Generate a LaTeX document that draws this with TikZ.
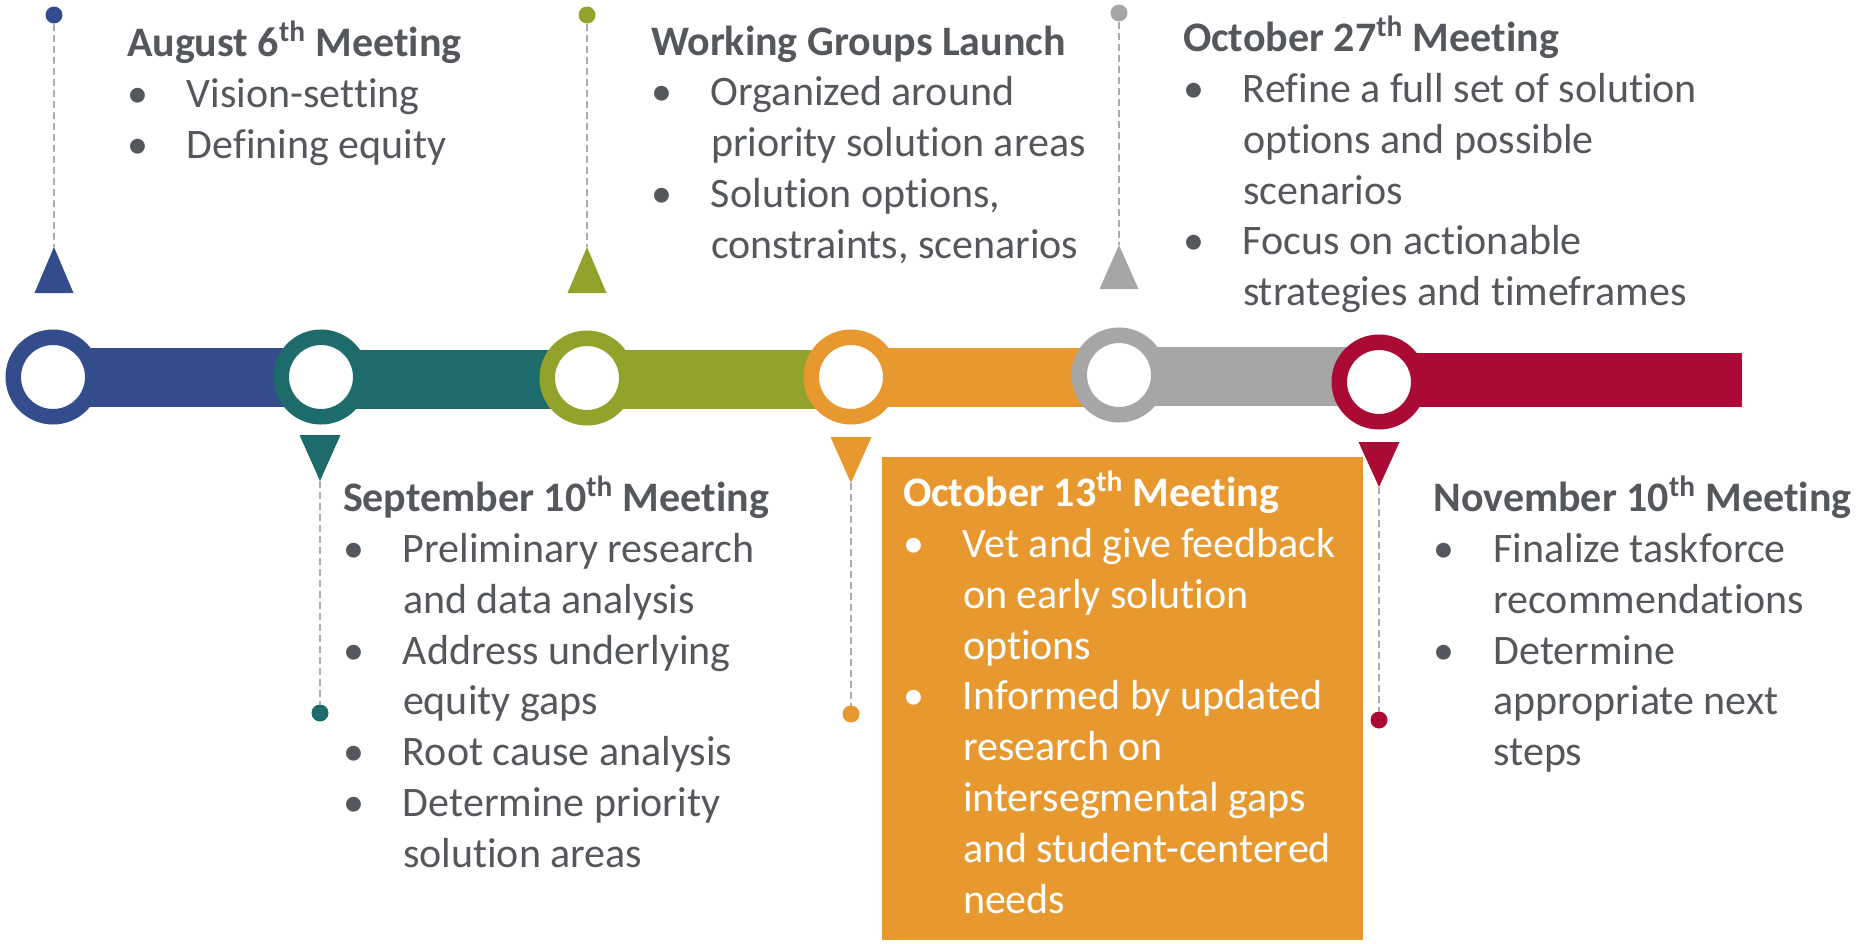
\documentclass[tikz,border=0pt]{standalone}
\usepackage{fontspec}
\setmainfont{Carlito}[RawFeature={-liga;-clig;-calt;-dlig}]
\definecolor{tlblue}{RGB}{51,76,140}
\definecolor{tlteal}{RGB}{29,107,107}
\definecolor{tlgreen}{RGB}{147,162,42}
\definecolor{tlorange}{RGB}{231,153,48}
\definecolor{tlgray}{RGB}{166,166,166}
\definecolor{tlred}{RGB}{170,10,52}
\definecolor{textgray}{RGB}{84,87,91}
\definecolor{guidegray}{RGB}{172,172,172}
% text lines of a milestone block
\newcommand\tlhead[1]{\hbox{\bfseries #1}}
\newcommand\tlitem[1]{\hbox{\makebox[30pt][l]{\textbullet}#1}}
\newcommand\tlcont[1]{\hbox{\hspace*{30pt}#1}}
\newcommand\tlth{\textsuperscript{th}}
\begin{document}
\begin{tikzpicture}[x=0.5pt,y=-0.5pt,
  ring/.style={circle,draw=#1,line width=7.75pt,fill=white,minimum size=39.75pt,inner sep=0pt,outer sep=0pt},
  pin/.style={circle,fill=#1,minimum size=8.5pt,inner sep=0pt,outer sep=0pt},
  guide/.style={draw=guidegray,line width=0.9pt,dash pattern=on 3.5pt off 2pt},
  block/.style={anchor=base west,inner sep=0pt,outer sep=0pt,text=textgray,
    font=\fontsize{21}{25.4}\selectfont},
  whiteblock/.style={block,text=white}]
\useasboundingbox (0,0) rectangle (1859,943);

% bar segments between milestones
\fill[tlblue]   (53,348)   rectangle (321,407);
\fill[tlteal]   (321,350)  rectangle (587,409);
\fill[tlgreen]  (587,350)  rectangle (851,409);
\fill[tlorange] (851,348)  rectangle (1119,407);
\fill[tlgray]   (1119,347) rectangle (1379,406);
\fill[tlred]    (1379,353) rectangle (1742,407);

% milestone rings
\node[ring=tlblue]   (r1) at (53,377) {};
\node[ring=tlteal]   (r2) at (321,377) {};
\node[ring=tlgreen]  (r3) at (587,378) {};
\node[ring=tlorange] (r4) at (851,377) {};
\node[ring=tlgray]   (r5) at (1119,375) {};
\node[ring=tlred]    (r6) at (1379,382) {};

% pointer triangles
\fill[tlblue]   (54,247) -- (34.5,293) -- (73.5,293) -- cycle;
\fill[tlgreen]  (587,247) -- (567.5,293) -- (606.5,293) -- cycle;
\fill[tlgray]   (1119,245) -- (1099.5,289) -- (1138.5,289) -- cycle;
\fill[tlteal]   (320,481) -- (299.5,435) -- (340.5,435) -- cycle;
\fill[tlorange] (851,483) -- (830.5,437) -- (871.5,437) -- cycle;
\fill[tlred]    (1379,487) -- (1358.5,442) -- (1399.5,442) -- cycle;
\coordinate (a1) at (54,247);
\coordinate (a3) at (587,247);
\coordinate (a5) at (1119,245);
\coordinate (a2) at (320,481);
\coordinate (a4) at (851,483);
\coordinate (a6) at (1379,487);

% end pins and dashed guides
\node[pin=tlblue]   (p1) at (54,15) {};
\node[pin=tlgreen]  (p3) at (587,15) {};
\node[pin=tlgray]   (p5) at (1119,13) {};
\node[pin=tlteal]   (p2) at (320,713) {};
\node[pin=tlorange] (p4) at (851,714) {};
\node[pin=tlred]    (p6) at (1379,720) {};
\draw[guide] (p1) -- (a1);
\draw[guide] (p3) -- (a3);
\draw[guide] (p5) -- (a5);
\draw[guide] (a2) -- (p2);
\draw[guide] (a4) -- (p4);
\draw[guide] (a6) -- (p6);

% highlighted panel
\fill[tlorange] (882,457) rectangle (1362.5,940);

% milestone texts
\node[block] (t1) at (127,56.7) {\vtop{%
  \tlhead{August 6\tlth{} Meeting}
  \tlitem{Vision-setting}
  \tlitem{Defining equity}}};
\node[block] (t3) at (651,55) {\vtop{%
  \tlhead{Working Groups Launch}
  \tlitem{Organized around}
  \tlcont{priority solution areas}
  \tlitem{Solution options,}
  \tlcont{constraints, scenarios}}};
\node[block] (t5) at (1183,51.7) {\vtop{%
  \tlhead{October 27\tlth{} Meeting}
  \tlitem{Refine a full set of solution}
  \tlcont{options and possible}
  \tlcont{scenarios}
  \tlitem{Focus on actionable}
  \tlcont{strategies and timeframes}}};
\node[block] (t2) at (343,511.7) {\vtop{%
  \tlhead{September 10\tlth{} Meeting}
  \tlitem{Preliminary research}
  \tlcont{and data analysis}
  \tlitem{Address underlying}
  \tlcont{equity gaps}
  \tlitem{Root cause analysis}
  \tlitem{Determine priority}
  \tlcont{solution areas}}};
\node[whiteblock] (t4) at (903,506.7) {\vtop{%
  \tlhead{October 13\tlth{} Meeting}
  \tlitem{Vet and give feedback}
  \tlcont{on early solution}
  \tlcont{options}
  \tlitem{Informed by updated}
  \tlcont{research on}
  \tlcont{intersegmental gaps}
  \tlcont{and student-centered}
  \tlcont{needs}}};
\node[block] (t6) at (1433.5,511.7) {\vtop{%
  \tlhead{November 10\tlth{} Meeting}
  \tlitem{Finalize taskforce}
  \tlcont{recommendations}
  \tlitem{Determine}
  \tlcont{appropriate next}
  \tlcont{steps}}};
\end{tikzpicture}
\end{document}
